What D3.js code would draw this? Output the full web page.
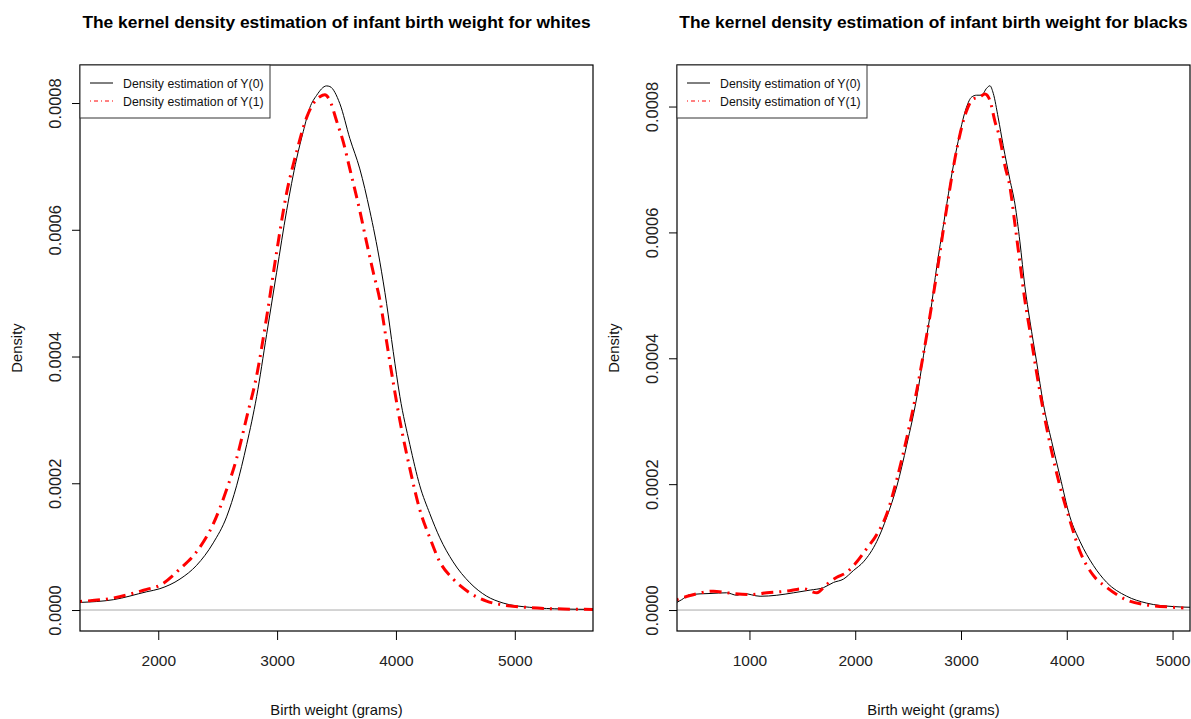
<!DOCTYPE html>
<html>
<head>
<meta charset="utf-8">
<script src="https://cdnjs.cloudflare.com/ajax/libs/d3/7.8.5/d3.min.js"></script>
<style>
  body { margin: 0; background: #fff; }
  text { font-family: "Liberation Sans", Arial, Helvetica, sans-serif; }
</style>
</head>
<body>
<div id="chart"></div>
<script>
// chart size
var svgWidth = 1191;
var svgHeight = 719;

// ---- data ----
// whites, Y(0)
var whiteX0 = [1342, 1622, 1902, 2014, 2183, 2323, 2463, 2575, 2659, 2744, 2828, 2912, 2996, 3080, 3164, 3220, 3276, 3332, 3416,
  3444, 3528, 3612, 3696, 3780, 3865, 3921, 3977, 4033, 4117, 4201, 4285, 4369, 4481, 4622, 4762, 4902, 5126, 5407, 5659];
var whiteD0 = [1.2e-5, 1.63e-5, 2.88e-5, 3.37e-5, 4.89e-5, 7.06e-5, 1.06e-4, 1.47e-4, 1.96e-4, 2.61e-4, 3.37e-4, 4.35e-4, 5.33e-4, 6.30e-4, 7.12e-4, 7.55e-4, 7.93e-4, 8.12e-4, 8.27e-4,
  8.26e-4, 7.99e-4, 7.44e-4, 6.96e-4, 6.30e-4, 5.49e-4, 4.84e-4, 4.08e-4, 3.37e-4, 2.61e-4, 1.96e-4, 1.52e-4, 1.14e-4, 7.6e-5, 4.3e-5, 2.2e-5, 1.1e-5, 4.3e-6, 1.6e-6, 1.0e-6];
// whites, Y(1)
var whiteX1 = [1342, 1622, 1902, 2014, 2183, 2323, 2463, 2575, 2659, 2744, 2828, 2912, 2996, 3080, 3164, 3248, 3304, 3360, 3402,
  3444, 3500, 3556, 3612, 3696, 3752, 3809, 3865, 3921, 3977, 4033, 4117, 4201, 4285, 4369, 4481, 4622, 4762, 4902, 5126, 5407, 5659];
var whiteD1 = [1.36e-5, 1.9e-5, 3.26e-5, 3.9e-5, 6.5e-5, 9.2e-5, 1.36e-4, 1.9e-4, 2.39e-4, 3.04e-4, 3.70e-4, 4.62e-4, 5.65e-4, 6.58e-4, 7.23e-4, 7.77e-4, 7.99e-4, 8.10e-4, 8.13e-4,
  8.04e-4, 7.72e-4, 7.39e-4, 6.96e-4, 6.30e-4, 5.81e-4, 5.33e-4, 4.89e-4, 4.24e-4, 3.59e-4, 2.99e-4, 2.23e-4, 1.58e-4, 1.14e-4, 7.6e-5, 4.9e-5, 2.7e-5, 1.4e-5, 8e-6, 3.8e-6, 1.6e-6, 1.0e-6];

// blacks, Y(0)
var blackX0 = [312, 359, 438, 627, 785, 880, 943, 1101, 1258, 1416, 1574, 1700, 1794, 1889, 1984, 2078, 2204, 2299, 2394, 2488, 2583, 2646, 2709, 2772,
  2835, 2898, 2961, 3052, 3100, 3147, 3194, 3242, 3273, 3305, 3352, 3399, 3462, 3510, 3557, 3604, 3652, 3715, 3778, 3857, 3935, 4030, 4125, 4251, 4377, 4566, 4755, 5008, 5166];
var blackD0 = [1.2e-5, 1.64e-5, 2.46e-5, 2.63e-5, 2.74e-5, 2.35e-5, 2.63e-5, 2.19e-5, 2.35e-5, 2.74e-5, 3.17e-5, 3.56e-5, 4.38e-5, 4.92e-5, 6.29e-5, 7.66e-5, 1.09e-4, 1.48e-4, 1.97e-4, 2.63e-4, 3.39e-4, 4.05e-4, 4.70e-4, 5.47e-4,
  6.13e-4, 6.78e-4, 7.35e-4, 7.99e-4, 8.15e-4, 8.18e-4, 8.18e-4, 8.29e-4, 8.33e-4, 8.21e-4, 7.82e-4, 7.38e-4, 6.84e-4, 6.45e-4, 5.85e-4, 5.14e-4, 4.59e-4, 3.94e-4, 3.28e-4, 2.68e-4, 2.13e-4, 1.48e-4, 1.09e-4, 7.1e-5, 4.4e-5, 2.2e-5, 1.1e-5, 5.5e-6, 4.4e-6];
// blacks, Y(1)
var blackX1 = [312, 438, 659, 785, 1006, 1164, 1353, 1511, 1637, 1731, 1826, 1920, 2015, 2110, 2204, 2299, 2394, 2488, 2583, 2677, 2772, 2866,
  2961, 3052, 3115, 3178, 3226, 3273, 3320, 3368, 3415, 3462, 3510, 3557, 3604, 3652, 3715, 3778, 3857, 3935, 4030, 4125, 4251, 4377, 4566, 4755, 5008, 5103];
var blackD1 = [1.64e-5, 2.3e-5, 3.0e-5, 2.74e-5, 2.46e-5, 2.74e-5, 3.0e-5, 3.39e-5, 2.74e-5, 4.1e-5, 5.2e-5, 6.0e-5, 7.66e-5, 9.8e-5, 1.2e-4, 1.53e-4, 2.08e-4, 2.74e-4, 3.50e-4, 4.38e-4, 5.36e-4, 6.40e-4,
  7.33e-4, 7.93e-4, 8.12e-4, 8.15e-4, 8.2e-4, 8.1e-4, 7.77e-4, 7.49e-4, 7.06e-4, 6.73e-4, 6.13e-4, 5.52e-4, 4.92e-4, 4.43e-4, 3.77e-4, 3.17e-4, 2.52e-4, 1.97e-4, 1.42e-4, 9.3e-5, 5.5e-5, 3.6e-5, 1.6e-5, 8.2e-6, 4.4e-6, 3.3e-6];

var xTicksWhite = [2000, 3000, 4000, 5000];
var xTicksBlack = [1000, 2000, 3000, 4000, 5000];
var yTicks = [0, 0.0002, 0.0004, 0.0006, 0.0008];
var legendLabels = ["Density estimation of Y(0)", "Density estimation of Y(1)"];

var svg = d3.select("#chart")
  .append("svg")
  .attr("width", svgWidth)
  .attr("height", svgHeight);

function zip(xs, ys) {
  return xs.map((x, i) => ({x: x, y: ys[i]}));
}

// draw one panel
function drawPanel(opt) {
  var left = opt.left, right = opt.right, top = 65, bottom = 631;
  var w = right - left, h = bottom - top;

  var xScale = d3.scaleLinear().domain(opt.xDomain).range([0, w]);
  var yScale = d3.scaleLinear().domain(opt.yDomain).range([h, 0]);

  var g = svg.append("g").attr("transform", `translate(${left}, ${top})`);

  g.append("clipPath").attr("id", opt.id)
    .append("rect").attr("width", w).attr("height", h);

  // x axis
  var xAxis = d3.axisBottom(xScale).tickValues(opt.xTicks).tickFormat(d3.format("d")).tickSize(9).tickPadding(15);
  var gx = g.append("g").attr("transform", `translate(0, ${h})`).call(xAxis);
  gx.select(".domain").remove();
  gx.selectAll("text").attr("font-size", "15.5px").attr("fill", "#222")
    .style("font-family", "'Liberation Sans', Arial, sans-serif");

  // y axis (labels parallel to the axis, like R)
  var yAxis = d3.axisLeft(yScale).tickValues(yTicks).tickFormat(d3.format(".4f")).tickSize(8);
  var gy = g.append("g").call(yAxis);
  gy.select(".domain").remove();
  gy.selectAll("text")
    .attr("font-size", "16.5px").attr("fill", "#222")
    .style("font-family", "'Liberation Sans', Arial, sans-serif")
    .attr("text-anchor", "middle")
    .attr("x", 0).attr("dy", 0)
    .attr("transform", "translate(-19,0) rotate(-90)");

  // zero line
  g.append("line")
    .attr("x1", 0).attr("x2", w)
    .attr("y1", yScale(0)).attr("y2", yScale(0))
    .attr("stroke", "#aaaaaa").attr("stroke-width", 1);

  var line = d3.line()
    .x(d => xScale(d.x))
    .y(d => yScale(d.y))
    .curve(d3.curveMonotoneX);

  var curves = g.append("g").attr("clip-path", `url(#${opt.id})`);
  curves.append("path")
    .datum(zip(opt.x0, opt.d0))
    .attr("d", line)
    .attr("fill", "none")
    .attr("stroke", "#000")
    .attr("stroke-width", 1);
  curves.append("path")
    .datum(zip(opt.x1, opt.d1))
    .attr("d", line)
    .attr("fill", "none")
    .attr("stroke", "#ff0000")
    .attr("stroke-width", 3)
    .attr("stroke-dasharray", "2,6,12,6");

  // box
  g.append("rect")
    .attr("width", w).attr("height", h)
    .attr("fill", "none").attr("stroke", "#000").attr("stroke-width", 1.2);

  // legend
  var lg = g.append("g");
  lg.append("rect")
    .attr("x", 0).attr("y", 0).attr("width", 190).attr("height", 53)
    .attr("fill", "#fff").attr("stroke", "#333").attr("stroke-width", 1);
  legendLabels.forEach(function(lbl, i) {
    var yy = 18 + i * 18;
    lg.append("line")
      .attr("x1", 10).attr("x2", 33).attr("y1", yy).attr("y2", yy)
      .attr("stroke", i === 0 ? "#000" : "#ff0000")
      .attr("stroke-width", 1)
      .attr("stroke-dasharray", i === 0 ? null : "1,3,4,3");
    lg.append("text")
      .attr("x", 43).attr("y", yy + 4.5)
      .attr("font-size", "12.3px").attr("fill", "#111")
      .text(lbl);
  });

  // titles
  svg.append("text")
    .attr("x", left + w / 2).attr("y", 28)
    .attr("text-anchor", "middle")
    .attr("font-size", "17.4px").attr("font-weight", "bold")
    .text(opt.title);

  svg.append("text")
    .attr("x", left + w / 2).attr("y", 715)
    .attr("text-anchor", "middle")
    .attr("font-size", "14.8px").attr("fill", "#111")
    .text("Birth weight (grams)");

  svg.append("text")
    .attr("transform", `translate(${left - 58}, ${top + h / 2}) rotate(-90)`)
    .attr("text-anchor", "middle")
    .attr("font-size", "14.8px").attr("fill", "#111")
    .text("Density");
}

drawPanel({
  id: "clipW", left: 80, right: 593,
  xDomain: [1341.5, 5658], yDomain: [-0.0000331, 0.00086],
  xTicks: xTicksWhite,
  x0: whiteX0, d0: whiteD0, x1: whiteX1, d1: whiteD1,
  title: "The kernel density estimation of infant birth weight for whites"
});

drawPanel({
  id: "clipB", left: 677, right: 1190,
  xDomain: [315, 5165], yDomain: [-0.0000333, 0.000866],
  xTicks: xTicksBlack,
  x0: blackX0, d0: blackD0, x1: blackX1, d1: blackD1,
  title: "The kernel density estimation of infant birth weight for blacks"
});
</script>
</body>
</html>
